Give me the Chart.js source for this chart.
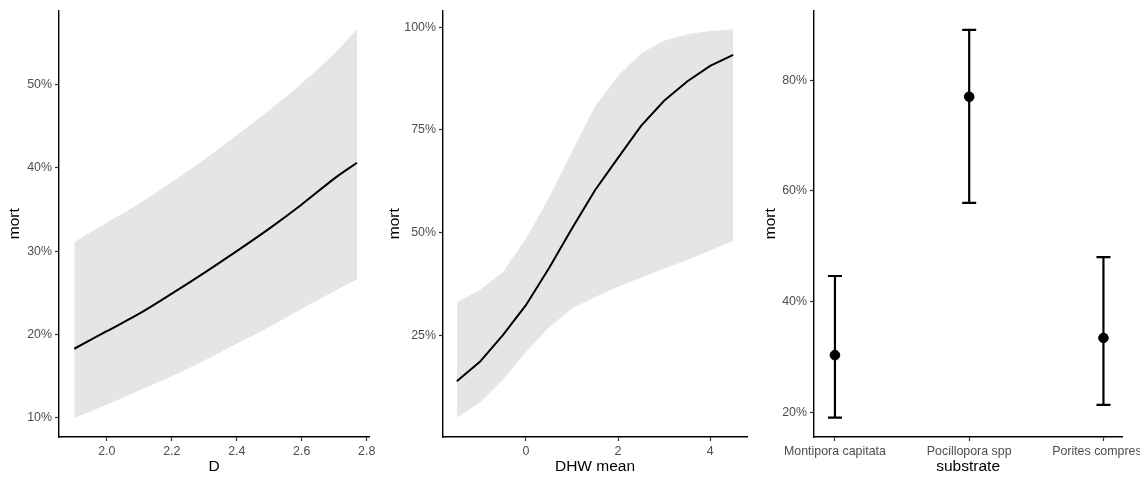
<!DOCTYPE html>
<html>
<head>
<meta charset="utf-8">
<script src="https://cdn.jsdelivr.net/npm/chart.js@4.4.1/dist/chart.umd.min.js"></script>
<style>
  html, body { margin: 0; padding: 0; background: #fff; overflow: hidden; width: 1140px; height: 481px; position: relative; }
  canvas { position: absolute; top: 0; }
</style>
</head>
<body>
<canvas id="pD" width="380" height="481" style="left:0"></canvas>
<canvas id="pDHW" width="380" height="481" style="left:380px"></canvas>
<canvas id="pSub" width="400" height="481" style="left:760px"></canvas>
<script>
// Panel 1: mort ~ D (percent)
const dX    = [1.9, 2.0, 2.1, 2.2, 2.3, 2.4, 2.5, 2.6, 2.7, 2.77];
const dFit  = [18.3, 20.4, 22.5, 24.9, 27.4, 30.0, 32.7, 35.6, 38.7, 40.6];
const dLow  = [10.0, 11.6, 13.3, 15.0, 16.9, 18.9, 20.9, 23.1, 25.2, 26.6];
const dHigh = [31.1, 33.4, 35.7, 38.3, 41.0, 43.9, 46.9, 50.1, 53.7, 56.6];
const dXTicks = [2.0, 2.2, 2.4, 2.6, 2.8];
const dYTicks = [10, 20, 30, 40, 50];

// Panel 2: mort ~ DHW mean (percent)
const dhwX    = [-1.5, -1, -0.5, 0, 0.5, 1, 1.5, 2, 2.5, 3, 3.5, 4, 4.5];
const dhwFit  = [13.8, 18.5, 25.0, 32.3, 41.3, 51.0, 60.3, 68.2, 76.0, 82.1, 86.8, 90.6, 93.3];
const dhwLow  = [4.9, 8.6, 14.2, 20.9, 26.9, 31.5, 34.3, 36.8, 39.0, 41.2, 43.3, 45.6, 48.0];
const dhwHigh = [33.0, 36.0, 40.4, 48.5, 58.5, 69.8, 80.7, 88.2, 93.7, 96.7, 98.3, 99.1, 99.5];
const dhwXTicks = [0, 2, 4];
const dhwYTicks = [25, 50, 75, 100];

// Panel 3: mort by substrate (percent)
const substrates = ["Montipora capitata", "Pocillopora spp", "Porites compressa"];
const subMort = [30.3, 77.0, 33.4];
const subLow  = [19.0, 57.8, 21.3];
const subHigh = [44.6, 89.1, 48.0];
const subYTicks = [20, 40, 60, 80];

const FONT = "'Liberation Sans', Arial, sans-serif";
const pct = v => v + '%';

function axis({ title, ticks, fmt, min, max, fit, titlePad }) {
  return {
    type: 'linear',
    min, max,
    afterBuildTicks: s => { s.ticks = ticks.map(v => ({ value: v })); },
    afterFit: s => { if (s.isHorizontal()) s.height = fit; else s.width = fit; },
    ticks: {
      callback: fmt, color: '#4d4d4d', padding: 3, autoSkip: false, maxRotation: 0,
      font: { family: FONT, size: 12.4 }
    },
    grid: { display: true, drawOnChartArea: false, drawTicks: true, tickLength: 4, tickColor: '#333', tickWidth: 1.2 },
    border: { display: true, color: '#000', width: 1.4 },
    title: { display: true, text: title, color: '#000', font: { family: FONT, size: 15.5 }, padding: titlePad }
  };
}

const pts = (xs, ys) => xs.map((x, i) => ({ x, y: ys[i] }));

function ribbonChart(id, xs, fit, low, high, xOpts, yOpts, pad, tension) {
  return new Chart(document.getElementById(id), {
    type: 'line',
    data: {
      datasets: [
        { data: pts(xs, fit), borderColor: '#000', borderWidth: 2, pointRadius: 0, fill: false },
        { data: pts(xs, high), borderWidth: 0, borderColor: 'rgba(0,0,0,0)', pointRadius: 0, fill: '+1', backgroundColor: '#e5e5e5' },
        { data: pts(xs, low), borderWidth: 0, borderColor: 'rgba(0,0,0,0)', pointRadius: 0, fill: false }
      ]
    },
    options: {
      responsive: false,
      animation: false,
      devicePixelRatio: 1,
      layout: { padding: pad },
      elements: { line: { tension } },
      plugins: { legend: { display: false }, tooltip: { enabled: false } },
      scales: { x: axis(xOpts), y: axis(yOpts) }
    }
  });
}

ribbonChart('pD', dX, dFit, dLow, dHigh,
  { title: 'D', ticks: dXTicks, fmt: v => v.toFixed(1), min: 1.853, max: 2.807, fit: 44, titlePad: { top: 0, bottom: 5 } },
  { title: 'mort', ticks: dYTicks, fmt: pct, min: 7.72, max: 58.86, fit: 59, titlePad: { top: 5, bottom: 0 } },
  { top: 10, right: 11, left: 0, bottom: 0 }, 0.3);

ribbonChart('pDHW', dhwX, dhwFit, dhwLow, dhwHigh,
  { title: 'DHW mean', ticks: dhwXTicks, fmt: v => String(v), min: -1.8, max: 4.8, fit: 44, titlePad: { top: 0, bottom: 5 } },
  { title: 'mort', ticks: dhwYTicks, fmt: pct, min: 0.2, max: 104.1, fit: 63, titlePad: { top: 5, bottom: 0 } },
  { top: 10, right: 13, left: 0, bottom: 0 }, 0);

// error bars for the substrate panel
const errorBars = {
  id: 'errorBars',
  beforeDatasetsDraw(chart) {
    const { ctx, scales: { x, y } } = chart;
    ctx.save();
    ctx.strokeStyle = '#000';
    ctx.lineWidth = 2.2;
    subLow.forEach((lo, i) => {
      const px = x.getPixelForValue(i + 1);
      const yLo = y.getPixelForValue(lo);
      const yHi = y.getPixelForValue(subHigh[i]);
      ctx.beginPath();
      ctx.moveTo(px, yLo); ctx.lineTo(px, yHi);
      ctx.moveTo(px - 7, yLo); ctx.lineTo(px + 7, yLo);
      ctx.moveTo(px - 7, yHi); ctx.lineTo(px + 7, yHi);
      ctx.stroke();
    });
    ctx.restore();
  }
};

new Chart(document.getElementById('pSub'), {
  type: 'scatter',
  data: {
    datasets: [{
      data: subMort.map((m, i) => ({ x: i + 1, y: m })),
      backgroundColor: '#000', borderColor: '#000', pointRadius: 4.8
    }]
  },
  options: {
    responsive: false,
    animation: false,
    devicePixelRatio: 1,
    layout: { padding: { top: 10, right: 37, left: 0, bottom: 0 } },
    plugins: { legend: { display: false }, tooltip: { enabled: false } },
    scales: {
      x: axis({ title: 'substrate', ticks: [1, 2, 3], fmt: v => substrates[v - 1], min: 0.844, max: 3.14, fit: 44, titlePad: { top: 0, bottom: 5 } }),
      y: axis({ title: 'mort', ticks: subYTicks, fmt: pct, min: 15.5, max: 92.6, fit: 54, titlePad: { top: 1, bottom: 0 } })
    }
  },
  plugins: [errorBars]
});
</script>
</body>
</html>
